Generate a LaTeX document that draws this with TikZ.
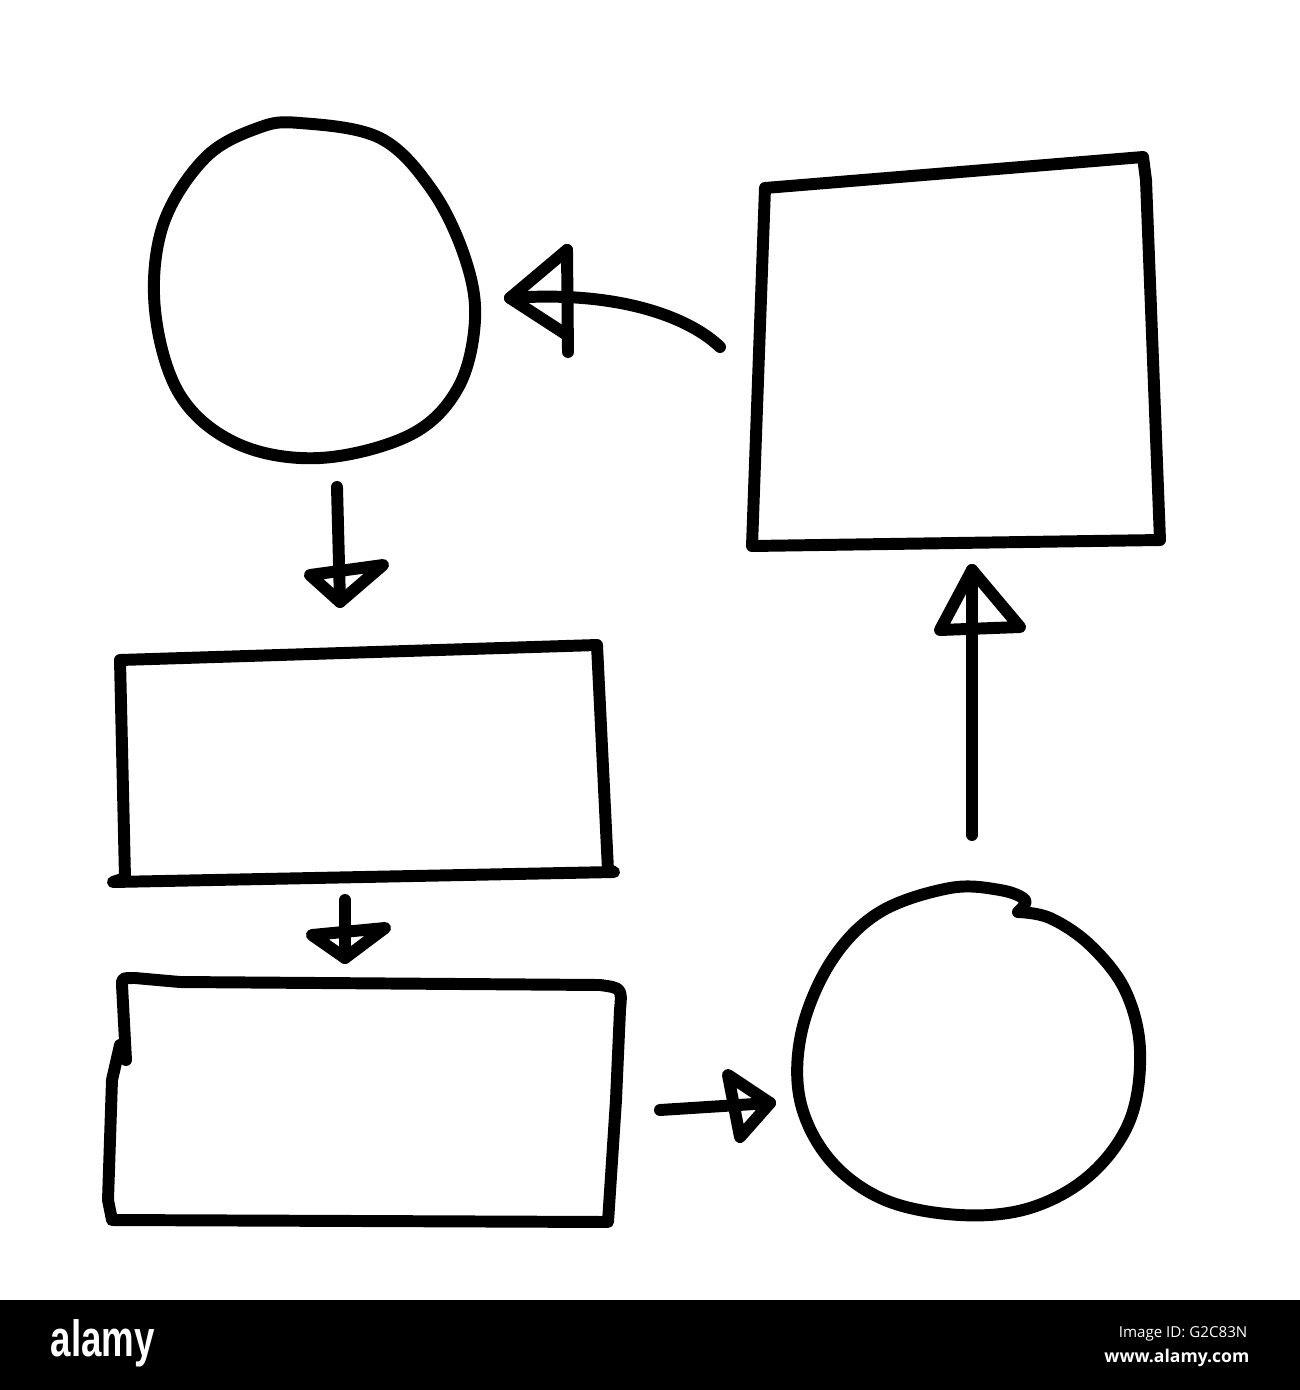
\documentclass[tikz,border=0pt]{standalone}
\usepackage{fontspec}
\setmainfont{Liberation Sans}
\newfontfamily\wmfont{Open Sans}
\begin{document}
\begin{tikzpicture}[x=0.01cm,y=-0.01cm,
  hand/.style={line width=3.4pt,line cap=round,line join=round,black},
  wm/.style={text=white,inner sep=0pt}]
\useasboundingbox (0,0) rectangle (1300,1390);
\fill[white] (0,0) rectangle (1300,1390);
% top-left circle
\draw[hand] plot[smooth cycle,tension=0.6] coordinates {(300,123) (380,138) (432,190) (465,258) (475,320) (458,388) (410,435) (320,458) (238,444) (180,395) (155,310) (163,225) (205,158) (258,128)};
\coordinate (c1s) at (337,487);
% top-right square
\draw[hand] (765,188) -- (1143,157) -- (1146,180) -- (1160,540) -- (752,546) -- (765,188);
\coordinate (sqw) at (720,347);
% arrow square -> circle
\coordinate (c1e) at (510,298);
\draw[hand] (sqw) .. controls (690,318) and (620,290) .. (c1e);
\draw[hand] (567,250) -- (568,352);
\draw[hand] (567,250) -- (c1e) -- (567,335);
% arrow circle -> rect1
\coordinate (r1n) at (340,602);
\draw[hand] (c1s) -- (r1n);
\draw[hand] (310,575) -- (383,565) -- (r1n) -- cycle;
% rect1
\draw[hand] (120,660) -- (597,645) -- (608,870) -- (614,872) -- (113,882) -- (125,878) -- (120,660);
% arrow rect1 -> rect2
\coordinate (r1s) at (345,900);
\coordinate (r2n) at (345,958);
\draw[hand] (r1s) -- (r2n);
\draw[hand] (312,935) -- (385,928) -- (r2n) -- cycle;
% rect2
\draw[hand] (126,1060) -- (122,985) .. controls (122,978) .. (135,978) -- (180,982) -- (600,985) .. controls (622,988) .. (620,1010) -- (616,1100) -- (608,1222) -- (112,1220) -- (108,1200) -- (112,1080) -- (120,1045);
% arrow rect2 -> circle2
\coordinate (r2e) at (660,1110);
\coordinate (c2w) at (770,1103);
\draw[hand] (r2e) -- (c2w);
\draw[hand] (728,1075) -- (c2w) -- (740,1137) -- cycle;
% bottom-right circle
\draw[hand] plot[smooth,tension=0.6] coordinates {(1018,912) (1050,918) (1090,945) (1125,990) (1140,1050) (1130,1120) (1090,1175) (1030,1208) (960,1215) (885,1200) (830,1160) (800,1100) (802,1030) (832,960) (880,912) (950,888) (1000,890) (1025,900) (1018,912)};
% arrow circle2 -> square
\coordinate (c2n) at (972,835);
\coordinate (sqs) at (972,570);
\draw[hand] (c2n) -- (sqs);
\draw[hand] (940,630) -- (sqs) -- (1020,627) -- cycle;
% watermark bar
\fill[black] (0,1300) rectangle (1300,1390);
\node[wm,anchor=base west] (logo) at (50,1356) {\scalebox{0.72}[1]{\fontsize{14.5}{15}\selectfont\bfseries alamy}};
\node[wm,anchor=base east] (imgid) at (1248,1337) {\wmfont\fontsize{4.3}{5}\selectfont Image ID: G2C83N};
\node[wm,anchor=base east] (www) at (1250,1362) {\wmfont\fontsize{5}{6}\selectfont\bfseries www.alamy.com};
\end{tikzpicture}
\end{document}
